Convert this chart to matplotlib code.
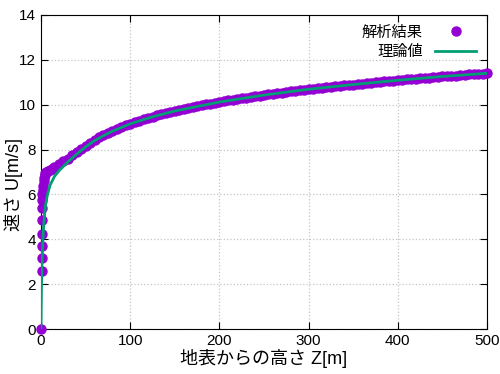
import matplotlib
matplotlib.use('Agg')
import matplotlib.pyplot as plt

plt.rcParams['font.family'] = ['Liberation Sans', 'Noto Sans CJK JP']

# 理論値 (読み取り)
z_theory = [0, 0.5, 1, 2, 3, 4, 5, 7, 10, 15, 20, 30, 40, 50, 60, 70, 80, 100,
            125, 150, 200, 250, 300, 350, 400, 450, 500]
u_theory = [0, 1.8, 2.8, 3.9, 4.6, 5.1, 5.5, 5.95, 6.4, 6.8, 7.05, 7.45, 7.8, 8.12,
            8.4, 8.62, 8.82, 9.15, 9.46, 9.72, 10.12, 10.43, 10.69, 10.9, 11.09,
            11.26, 11.4]

# 解析結果 (読み取り)
z_calc = [0, 0.6, 0.8, 0.7, 1.0, 1.2, 0.9, 1.3, 1.6, 2.0, 2.5, 3.0, 3.5, 4.0,
          5, 6, 8, 10, 12, 15, 20, 25, 30, 35, 40, 45,
          50, 55, 60, 65, 70, 75, 80, 85, 90, 95, 100,
          105, 110, 115, 120, 125, 130, 135, 140, 145, 150,
          155, 160, 165, 170, 175, 180, 185, 190, 195, 200,
          205, 210, 215, 220, 225, 230, 235, 240, 245, 250,
          255, 260, 265, 270, 275, 280, 285, 290, 295, 300,
          305, 310, 315, 320, 325, 330, 335, 340, 345, 350,
          355, 360, 365, 370, 375, 380, 385, 390, 395, 400,
          405, 410, 415, 420, 425, 430, 435, 440, 445, 450,
          455, 460, 465, 470, 475, 480, 485, 490, 495, 500]
u_calc = [0, 2.6, 3.15, 3.7, 4.25, 4.85, 5.4, 5.75, 6.0, 6.2, 6.4, 6.6, 6.75, 6.85,
          6.95, 7.0, 7.05, 7.1, 7.15, 7.22, 7.35, 7.5, 7.6, 7.75, 7.88, 8.02,
          8.18, 8.31, 8.43, 8.55, 8.65, 8.75, 8.84, 8.92, 9.0, 9.08, 9.15,
          9.22, 9.28, 9.35, 9.4, 9.46, 9.52, 9.57, 9.62, 9.67, 9.72,
          9.76, 9.81, 9.85, 9.89, 9.93, 9.97, 10.01, 10.05, 10.09, 10.12,
          10.16, 10.19, 10.22, 10.25, 10.29, 10.32, 10.35, 10.38, 10.4, 10.43,
          10.46, 10.49, 10.52, 10.54, 10.57, 10.59, 10.62, 10.64, 10.66, 10.69,
          10.71, 10.73, 10.76, 10.78, 10.8, 10.82, 10.84, 10.86, 10.88, 10.9,
          10.92, 10.94, 10.96, 10.98, 11.0, 11.02, 11.04, 11.06, 11.07, 11.09,
          11.11, 11.13, 11.14, 11.16, 11.18, 11.19, 11.21, 11.22, 11.24, 11.26,
          11.27, 11.29, 11.3, 11.32, 11.33, 11.35, 11.36, 11.37, 11.39, 11.4]

fig = plt.figure(figsize=(5, 3.74), dpi=100)
ax = fig.add_axes([0.082, 0.12, 0.892, 0.84])

ax.plot(z_calc, u_calc, 'o', color='#9400D3', markersize=6.5, label='解析結果',
        clip_on=False, zorder=3)
ax.plot(z_theory, u_theory, '-', color='#009E73', linewidth=2, label='理論値',
        zorder=4)

ax.set_xlim(0, 500)
ax.set_ylim(0, 14)
ax.set_xticks([0, 100, 200, 300, 400, 500])
ax.set_yticks([0, 2, 4, 6, 8, 10, 12, 14])
ax.tick_params(direction='in', length=5, labelsize=11, top=True, right=True)
ax.grid(True, color='#c4c4c4', linestyle=':', linewidth=0.9)
ax.set_xlabel('地表からの高さ Z[m]', fontsize=13, labelpad=1)
ax.set_ylabel('速さ U[m/s]', fontsize=13)
ax.yaxis.set_label_coords(-0.04, 0.46)

ax.legend(loc='upper right', frameon=False, markerfirst=False, fontsize=11,
          handlelength=2.7, borderaxespad=0.3, labelspacing=0.35)

fig.savefig('out.png', dpi=100)
